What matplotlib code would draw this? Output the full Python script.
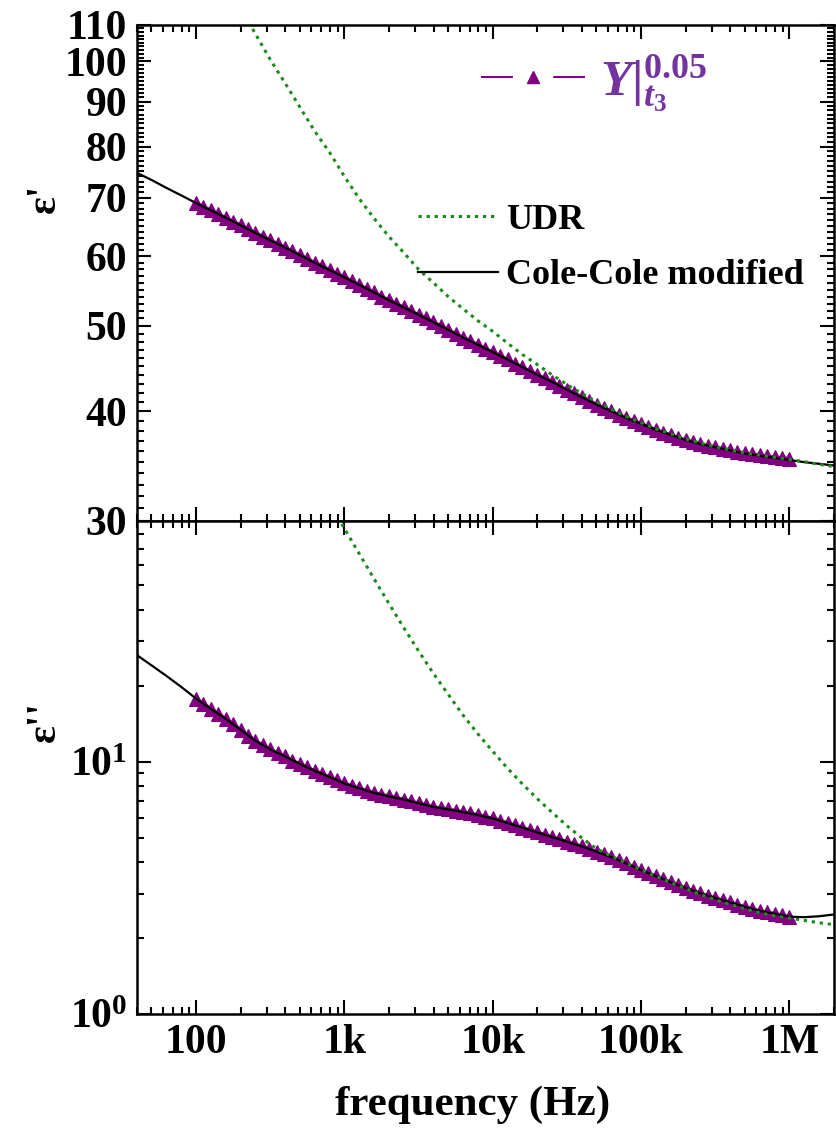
import numpy as np
import matplotlib
matplotlib.use('Agg')
import matplotlib.pyplot as plt
from matplotlib.ticker import FixedLocator, FixedFormatter, LogLocator, NullFormatter
from matplotlib.lines import Line2D

plt.rcParams['font.family'] = ['Liberation Serif', 'DejaVu Serif']
plt.rcParams['font.weight'] = 'bold'
plt.rcParams['mathtext.fontset'] = 'custom'
plt.rcParams['mathtext.rm'] = 'Liberation Serif'
plt.rcParams['mathtext.bf'] = 'Liberation Serif:bold'
plt.rcParams['mathtext.it'] = 'Liberation Serif:italic'
plt.rcParams['mathtext.bfit'] = 'Liberation Serif:italic:bold'
plt.rcParams['lines.scale_dashes'] = False

# ---------------- data ----------------
# model curves: 40 Hz .. 2 MHz, 10 points per decade
fit_freq = np.logspace(1.6, 6.3, 48)
cole_eps1 = [74.7, 73.3, 71.8, 70.4, 69.0, 67.7, 66.4, 65.1, 63.8, 62.6,
             61.4, 60.2, 59.0, 57.9, 56.8, 55.7, 54.6, 53.5, 52.5, 51.5,
             50.5, 49.5, 48.5, 47.6, 46.7, 45.8, 44.9, 44.0, 43.2, 42.3,
             41.5, 40.7, 40.0, 39.3, 38.7, 38.1, 37.6, 37.1, 36.7, 36.4,
             36.1, 35.8, 35.6, 35.4, 35.2, 35.0, 34.85, 34.7]
cole_eps2 = [26.5, 24.1, 21.9, 19.8, 17.8, 16.2, 14.8, 13.4, 12.1, 11.2,
             10.5, 9.8, 9.2, 8.7, 8.2, 7.85, 7.52, 7.3, 7.08, 6.85,
             6.62, 6.47, 6.32, 6.15, 5.96, 5.72, 5.48, 5.25, 5.03, 4.82,
             4.62, 4.40, 4.19, 3.95, 3.72, 3.52, 3.33, 3.16, 3.01, 2.88,
             2.77, 2.66, 2.56, 2.50, 2.43, 2.42, 2.44, 2.48]

# UDR curves
udr1_freq = np.logspace(2.3, 6.3, 41)
udr_eps1 = [115, 107.5, 100.5, 94.5, 88.7, 83.3, 78.8, 74.0, 69.8, 66.3,
            63.2, 60.6, 58.0, 56.0, 54.0, 52.3, 50.7, 49.3, 47.8, 46.4,
            45.2, 44.0, 42.9, 41.9, 41.0, 40.2, 39.45, 38.8, 38.2, 37.7,
            37.2, 36.8, 36.45, 36.15, 35.85, 35.65, 35.45, 35.25, 35.05, 34.8, 34.6]
udr2_freq = np.logspace(2.9, 6.3, 35)
udr_eps2 = [106, 84.1, 66.8, 53.1, 42.4, 34.0, 27.5, 22.4, 18.5, 15.3,
            12.9, 11.0, 9.42, 8.17, 7.14, 6.30, 5.58, 4.99, 4.52, 4.22,
            3.96, 3.73, 3.52, 3.32, 3.14, 2.98, 2.84, 2.72, 2.61, 2.52,
            2.45, 2.40, 2.35, 2.30, 2.26]

# measured data: 100 Hz .. 1 MHz, 20 points per decade
data_freq = np.logspace(2.0, 6.0, 81)
data_eps1 = [69.0, 68.3, 67.7, 67.0, 66.4, 65.7, 65.1, 64.4, 63.8, 63.2,
             62.6, 62.0, 61.4, 60.8, 60.2, 59.6, 59.0, 58.5, 57.9, 57.3,
             56.8, 56.2, 55.7, 55.1, 54.6, 54.0, 53.5, 53.0, 52.5, 52.0,
             51.5, 51.0, 50.5, 50.0, 49.5, 49.0, 48.5, 48.1, 47.6, 47.1,
             46.7, 46.2, 45.8, 45.3, 44.9, 44.4, 44.0, 43.6, 43.2, 42.7,
             42.3, 41.9, 41.5, 41.1, 40.7, 40.3, 40.0, 39.6, 39.3, 39.0,
             38.7, 38.4, 38.1, 37.8, 37.6, 37.3, 37.1, 36.9, 36.7, 36.5,
             36.4, 36.2, 36.1, 35.95, 35.85, 35.75, 35.65, 35.55, 35.45, 35.4, 35.3]
data_eps2 = [17.8, 17.0, 16.2, 15.5, 14.8, 14.1, 13.4, 12.7, 12.1, 11.6,
             11.2, 10.8, 10.5, 10.1, 9.8, 9.5, 9.2, 8.95, 8.7, 8.45,
             8.2, 8.02, 7.85, 7.68, 7.52, 7.41, 7.3, 7.19, 7.08, 6.96,
             6.85, 6.73, 6.62, 6.55, 6.47, 6.40, 6.32, 6.24, 6.15, 6.06,
             5.96, 5.84, 5.72, 5.60, 5.48, 5.36, 5.25, 5.14, 5.03, 4.92,
             4.82, 4.72, 4.62, 4.51, 4.40, 4.30, 4.19, 4.07, 3.95, 3.83,
             3.72, 3.62, 3.52, 3.42, 3.33, 3.24, 3.16, 3.08, 3.01, 2.94,
             2.88, 2.82, 2.77, 2.71, 2.66, 2.61, 2.56, 2.53, 2.50, 2.46, 2.43]

xtick_vals = [1e2, 1e3, 1e4, 1e5, 1e6]
xtick_labels = ['100', '1k', '10k', '100k', '1M']
y1_ticks = [30, 40, 50, 60, 70, 80, 90, 100, 110]
y2_ticks = [1, 10]
y2_labels = [r'$\mathbf{10}^{0}$', r'$\mathbf{10}^{1}$']
legend_data_label = r'$\mathbfit{Y}|_{\mathbfit{t}_{\mathbf{3}}}^{\mathbf{0.05}}$'
legend_fit_labels = ['UDR', 'Cole-Cole modified']

PURPLE = '#800080'
PURPLE_TXT = '#7434A0'
GREEN = '#1E8A1E'
UDR_DASH = (2.4, 3.4)

# ---------------- figure ----------------
W, H = 836, 1144
fig = plt.figure(figsize=(W / 100, H / 100), dpi=100)
L = 137 / W
AW = (834 - 137) / W
ax1 = fig.add_axes([L, 1 - 521 / H, AW, (521 - 25) / H])
ax2 = fig.add_axes([L, 1 - 1014 / H, AW, (1014 - 521) / H])

TICK_FS = 30

for ax in (ax1, ax2):
    ax.set_xscale('log')
    ax.set_yscale('log')
    ax.set_xlim(40, 2e6)
    ax.xaxis.set_major_locator(FixedLocator(xtick_vals))
    ax.xaxis.set_minor_locator(LogLocator(base=10, subs=np.arange(2, 10), numticks=50))
    ax.xaxis.set_minor_formatter(NullFormatter())
    ax.tick_params(which='both', direction='in', top=True, right=True, width=1.5,
                   labelsize=TICK_FS)
    ax.tick_params(which='major', length=10, pad=7)
    ax.tick_params(which='minor', length=5)
    for sp in ax.spines.values():
        sp.set_linewidth(1.8)

# top panel
ax1.set_ylim(30, 110)
ax1.yaxis.set_major_locator(FixedLocator(y1_ticks))
ax1.yaxis.set_major_formatter(FixedFormatter([str(v) for v in y1_ticks]))
ax1.yaxis.set_minor_locator(FixedLocator([v for v in range(31, 110) if v % 10]))
ax1.yaxis.set_minor_formatter(NullFormatter())
ax1.tick_params(axis='x', labelbottom=False)

MS = 10.5
ax1.plot(data_freq, data_eps1, linestyle='-', lw=2.5, marker='^', markersize=MS,
         color=PURPLE, markeredgewidth=0.8, zorder=2)
ax1.plot(fit_freq, cole_eps1, color='black', lw=1.6, zorder=3)
ax1.plot(udr1_freq, udr_eps1, color=GREEN, lw=2.2, dashes=UDR_DASH, zorder=4)

# bottom panel
ax2.set_ylim(1, 90)
ax2.yaxis.set_major_locator(FixedLocator(y2_ticks))
ax2.yaxis.set_major_formatter(FixedFormatter(y2_labels))
ax2.yaxis.set_minor_locator(LogLocator(base=10, subs=np.arange(2, 10), numticks=50))
ax2.yaxis.set_minor_formatter(NullFormatter())
ax2.xaxis.set_major_formatter(FixedFormatter(xtick_labels))

ax2.plot(data_freq, data_eps2, linestyle='-', lw=2.5, marker='^', markersize=MS,
         color=PURPLE, markeredgewidth=0.8, zorder=2)
ax2.plot(fit_freq, cole_eps2, color='black', lw=1.6, zorder=3)
ax2.plot(udr2_freq, udr_eps2, color=GREEN, lw=2.2, dashes=UDR_DASH, zorder=4)

# legends
h_data = Line2D([], [], color=PURPLE, lw=1.5, dashes=(23, 29), marker='^',
                markersize=8, markerfacecolor=PURPLE, markeredgecolor=PURPLE)
fs1 = 37
leg1 = ax1.legend([h_data], [legend_data_label], loc='center left',
                  bbox_to_anchor=(0.493, 0.881), frameon=False, fontsize=fs1,
                  handlelength=75 / fs1, handletextpad=0.3, borderpad=0,
                  borderaxespad=0, numpoints=1)
for t in leg1.get_texts():
    t.set_color(PURPLE_TXT)
ax1.add_artist(leg1)

h_udr = Line2D([], [], color=GREEN, lw=2.2, dashes=UDR_DASH)
h_cc = Line2D([], [], color='black', lw=1.6)
fs2 = 26
ax1.legend([h_udr, h_cc], legend_fit_labels, loc='center left',
           bbox_to_anchor=(0.403, 0.551), frameon=False, fontsize=fs2,
           handlelength=58 / fs2, handletextpad=0.2, labelspacing=0.62,
           borderpad=0, borderaxespad=0)

# axis labels
fig.text(45 / W, 1 - 198 / H, "ε'", rotation=90, ha='center', va='center',
         fontsize=30, fontweight='bold')
fig.text(45 / W, 1 - 722 / H, "ε''", rotation=90, ha='center', va='center',
         fontsize=30, fontweight='bold')
fig.text(473 / W, 1 - 1105 / H, 'frequency (Hz)', ha='center', va='center',
         fontsize=31, fontweight='bold')

fig.savefig('out.png', dpi=100)
